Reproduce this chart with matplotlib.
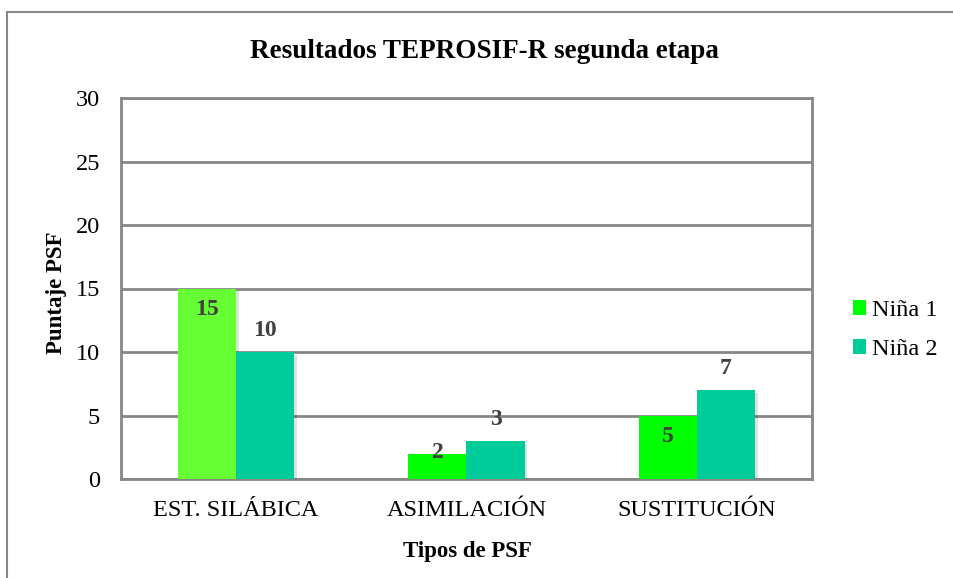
import matplotlib
matplotlib.use("Agg")
import matplotlib.pyplot as plt
import matplotlib.patheffects as pe
from matplotlib.patches import Rectangle, Patch
import numpy as np

categories = ["EST. SILÁBICA", "ASIMILACIÓN", "SUSTITUCIÓN"]
nina1 = [15, 2, 5]
nina2 = [10, 3, 7]
series_names = ["Niña 1", "Niña 2"]
title = "Resultados TEPROSIF-R segunda etapa"
ylabel = "Puntaje PSF"
xlabel = "Tipos de PSF"
yticks = [0, 5, 10, 15, 20, 25, 30]

c1 = "#00FF00"
c1_bars = ["#66FF33", "#00FF00", "#00FF00"]
c2 = "#00CC99"
grid_c = "#868686"
lbl_c = "#404040"

plt.rcParams['font.family'] = ['Liberation Serif', 'DejaVu Serif']

W, H = 954, 578
fig = plt.figure(figsize=(W / 100, H / 100), dpi=100)
fig.patch.set_facecolor("white")

# outer chart frame
fig.add_artist(Rectangle((7 / W, -0.1), 1.2, 1 - 12 / H + 0.1, transform=fig.transFigure,
                         fill=False, edgecolor="#888888", linewidth=1.5))

ax = fig.add_axes([121 / W, 1 - 479 / H, (812 - 121) / W, (479 - 98) / H])
x = np.arange(len(categories))
bw = 0.252
shadow = [pe.SimplePatchShadow(offset=(2, -2), shadow_rgbFace="#000000", alpha=0.12), pe.Normal()]
b1 = ax.bar(x - bw / 2, nina1, bw, color=c1_bars, zorder=3, path_effects=shadow)
b2 = ax.bar(x + bw / 2, nina2, bw, color=c2, zorder=3, path_effects=shadow)

ax.set_ylim(0, 30)
ax.set_xlim(-0.5, len(categories) - 0.5)
ax.set_yticks(yticks)
ax.set_xticks(x)
ax.set_xticklabels(categories)
ax.tick_params(axis="both", length=0, labelsize=17.5, colors="black")
ax.tick_params(axis="y", pad=15)
ax.tick_params(axis="x", pad=15)
ax.yaxis.grid(True, color=grid_c, linewidth=2, zorder=0)
ax.set_axisbelow(True)
for s in ax.spines.values():
    s.set_color(grid_c)
    s.set_linewidth(2)

for xi, v in zip(x, nina1):
    ax.annotate(str(v), (xi - bw / 2, v), xytext=(0, -15 if v > 4 else 0.5),
                textcoords="offset points", ha="center", va="center",
                fontsize=17, fontweight="bold", color=lbl_c, zorder=5)
for xi, v in zip(x, nina2):
    ax.annotate(str(v), (xi + bw / 2, v), xytext=(0, 15.5),
                textcoords="offset points", ha="center", va="center",
                fontsize=17, fontweight="bold", color=lbl_c, zorder=5)

fig.text(484 / W, 1 - 51 / H, title, ha="center", va="center", fontsize=19.5, fontweight="bold")
fig.text(57 / W, 1 - 293 / H, ylabel, ha="center", va="center", rotation=90, fontsize=16.5, fontweight="bold")
fig.text(467 / W, 1 - 551 / H, xlabel, ha="center", va="center", fontsize=16.5, fontweight="bold")

handles = [Patch(facecolor=c1), Patch(facecolor=c2)]
fig.legend(handles, series_names, loc="center left", bbox_to_anchor=(831 / W, 1 - 330 / H),
           frameon=False, fontsize=17.5, handlelength=0.55, handleheight=0.55,
           handletextpad=0.25, labelspacing=0.75)

fig.savefig("out.png", dpi=100)
